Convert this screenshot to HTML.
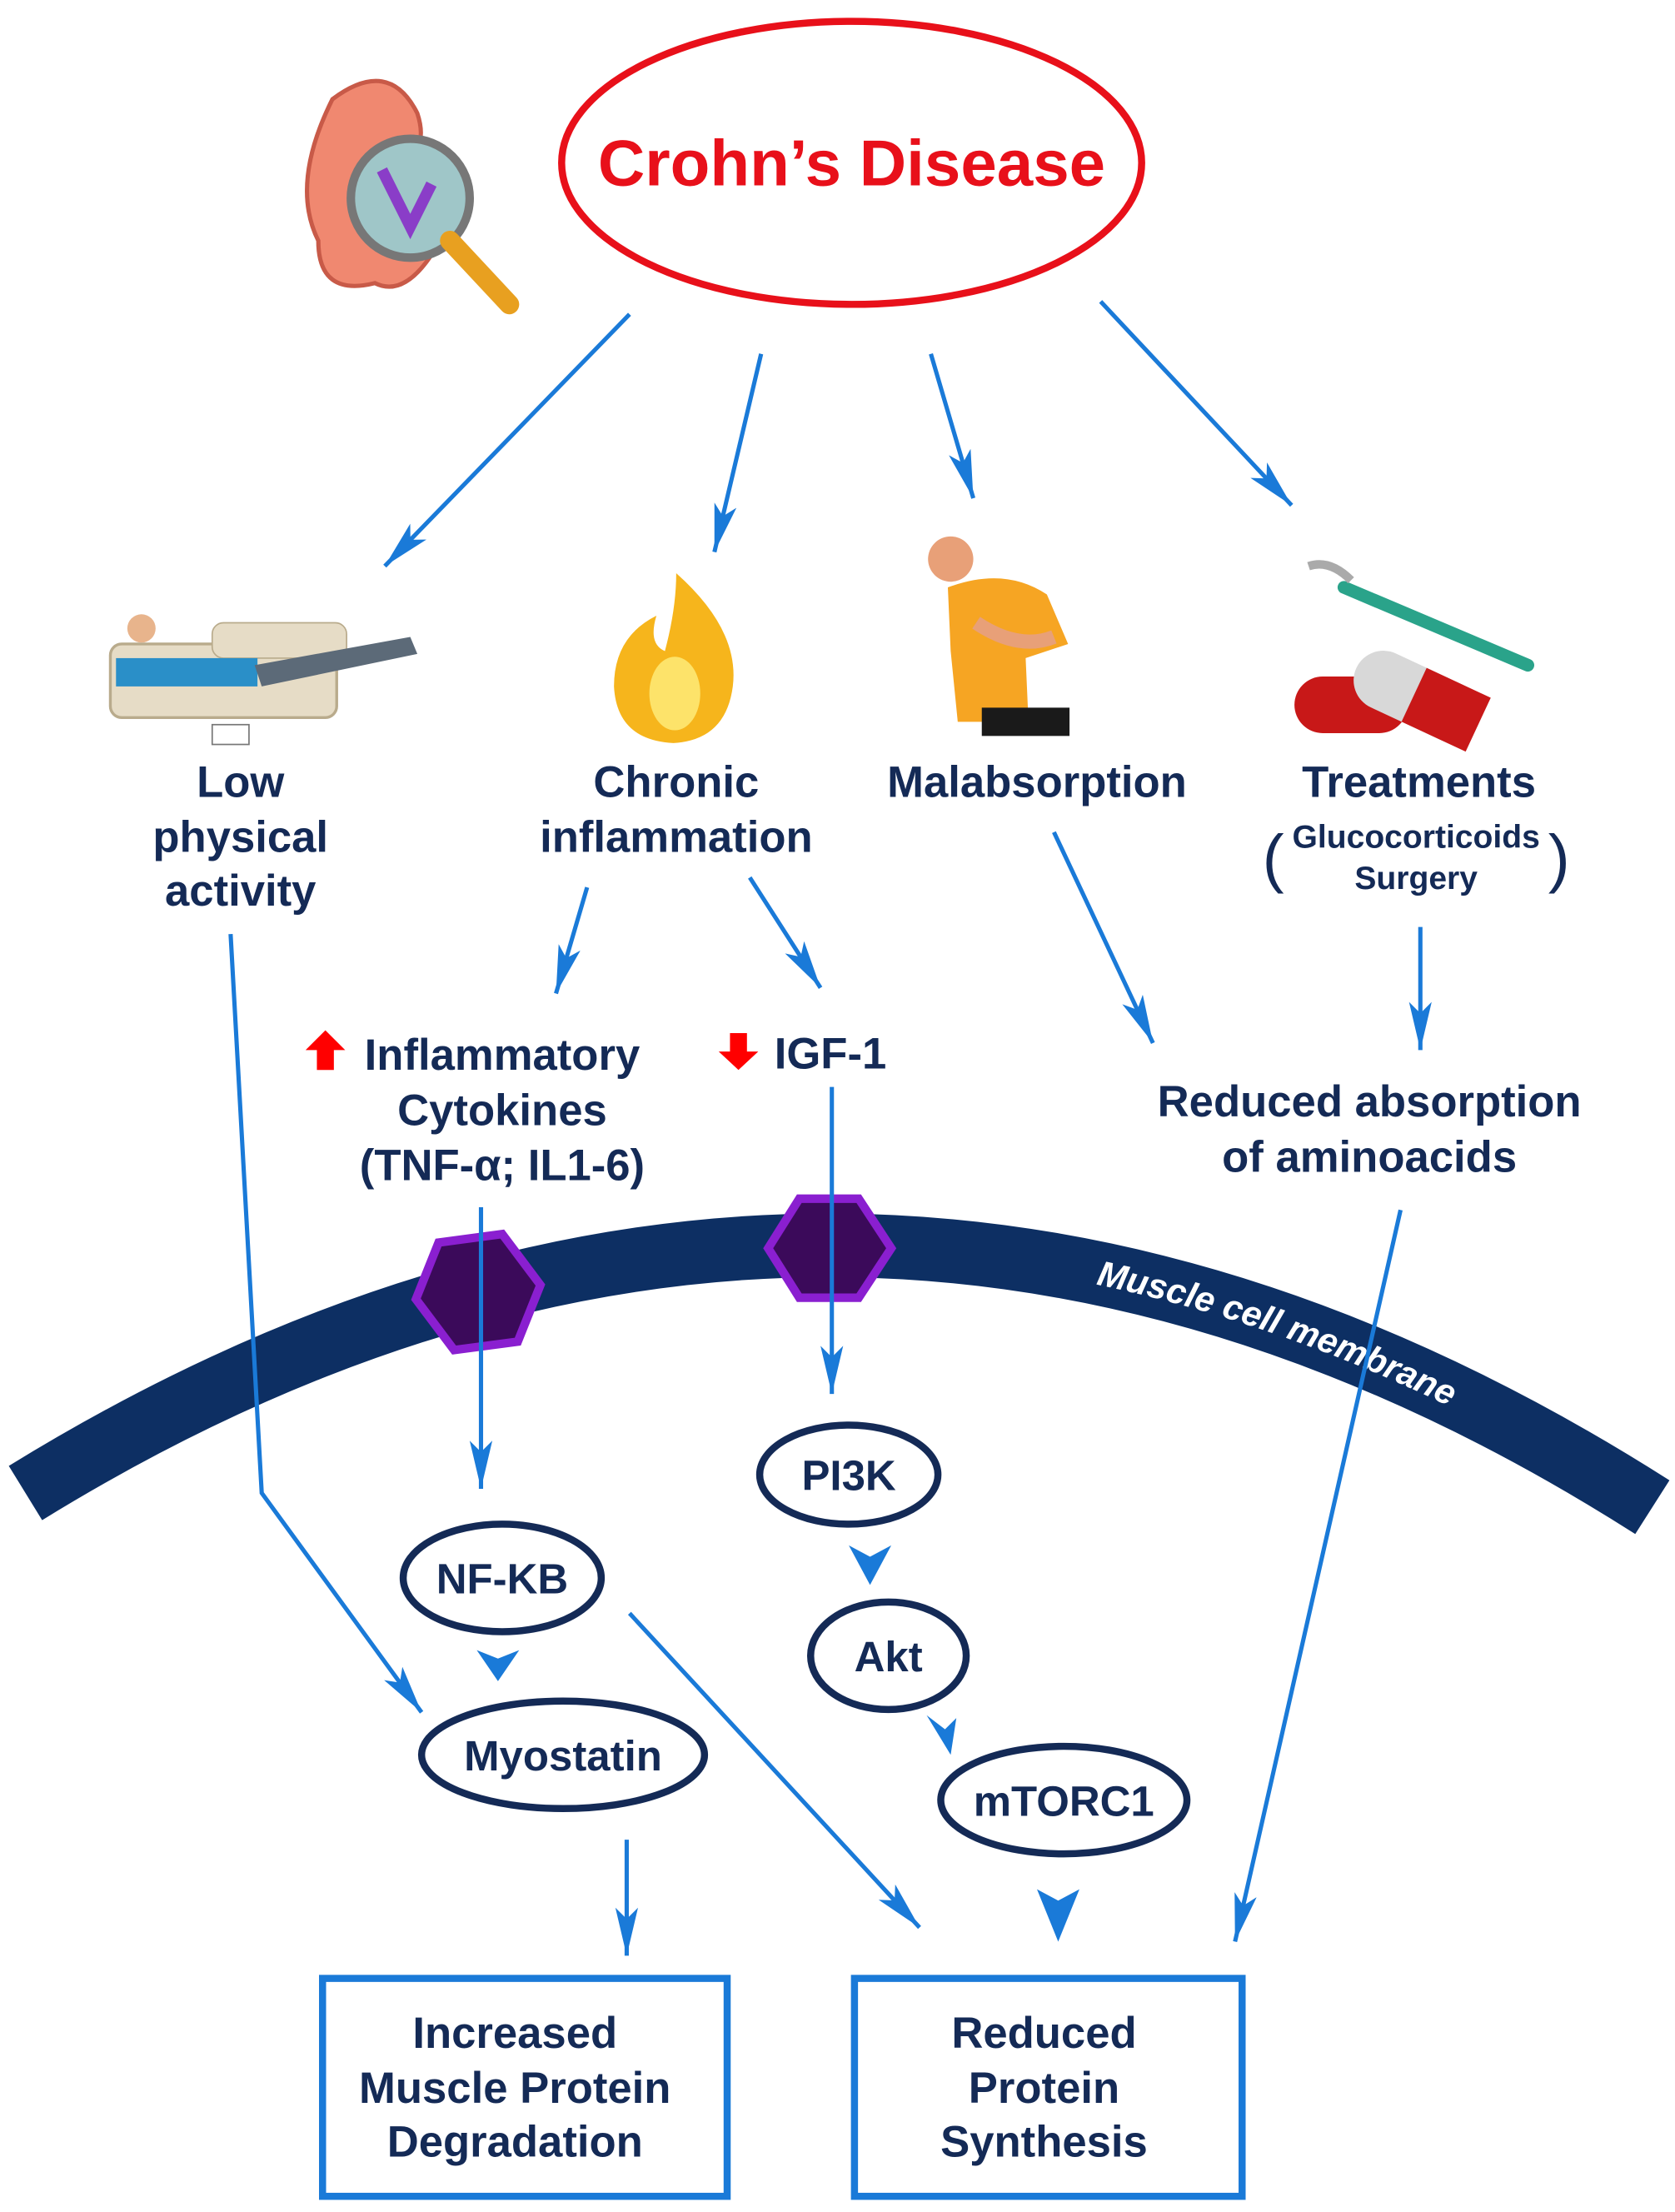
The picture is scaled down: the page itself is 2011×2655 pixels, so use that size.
<!DOCTYPE html>
<html><head><meta charset="utf-8"><style>html,body{margin:0;padding:0;background:#fff}svg{display:block}</style></head>
<body>
<svg width="2011" height="2655" viewBox="0 0 1184 1563" xmlns="http://www.w3.org/2000/svg" font-family="Liberation Sans, sans-serif" font-weight="bold">
<defs>
<marker id="a" markerUnits="userSpaceOnUse" markerWidth="40" markerHeight="20" refX="34" refY="8" orient="auto">
<path d="M0,0 L34,8 L0,16 L8,8 Z" fill="#1a7ad8"/>
</marker>
<path id="mem" d="M 18,1055 Q 595,700 1168,1065"/>
</defs>
<rect width="1184" height="1563" fill="#fff"/>

<!-- membrane -->
<path d="M 18,1055 Q 595,700 1168,1065" fill="none" stroke="#0d2f63" stroke-width="45"/>
<text font-size="25" fill="#fff" font-style="italic" dy="8"><textPath href="#mem" startOffset="65%">Muscle cell membrane</textPath></text>

<!-- hexagons -->
<polygon points="310,878 355,872 382,908 366,948 321,954 294,918" fill="#3b0a5a" stroke="#8a1fd0" stroke-width="6"/>
<polygon points="565,847 607,847 630,882 607,917 565,917 543,882" fill="#3b0a5a" stroke="#8a1fd0" stroke-width="6"/>

<!-- Crohn's ellipse -->
<ellipse cx="602" cy="115" rx="205" ry="100" fill="#fff" stroke="#e8101a" stroke-width="5"/>
<text x="602" y="131" font-size="46" fill="#e8101a" text-anchor="middle">Crohn’s Disease</text>

<!-- illustrations -->
<g>
<path d="M235,70 q40,-30 60,10 q10,30 -20,40 q40,20 30,60 q-20,30 -40,20 q-40,10 -40,-30 q-20,-40 10,-100z" fill="#f08870" stroke="#c85a48" stroke-width="3"/>
<circle cx="290" cy="140" r="42" fill="#9fc6c8" stroke="#777" stroke-width="6"/>
<path d="M270,120 l20,40 l15,-30" stroke="#8a3dc8" stroke-width="8" fill="none"/>
<line x1="318" y1="170" x2="360" y2="215" stroke="#e8a020" stroke-width="14" stroke-linecap="round"/>
</g>
<g>
<rect x="78" y="455" width="160" height="52" rx="8" fill="#e6dcc6" stroke="#b9ab8c" stroke-width="2"/>
<rect x="150" y="440" width="95" height="25" rx="8" fill="#e6dcc6" stroke="#b9ab8c"/>
<rect x="82" y="465" width="100" height="20" fill="#2a8fc8"/>
<path d="M180,470 L290,450 L295,462 L185,485z" fill="#5c6a78"/>
<circle cx="100" cy="444" r="10" fill="#e8b48c"/>
<rect x="150" y="512" width="26" height="14" fill="#fff" stroke="#777"/>
</g>
<g>
<path d="M478,405 q45,40 40,80 q-5,38 -42,40 q-40,-2 -42,-40 q0,-35 30,-50 q-6,20 6,25 q8,-30 8,-55z" fill="#f6b51c"/>
<ellipse cx="477" cy="490" rx="18" ry="26" fill="#fde36a"/>
</g>
<g>
<circle cx="672" cy="395" r="16" fill="#e8a078"/>
<path d="M670,415 q40,-15 70,5 l15,35 l-30,10 l2,45 l-50,0 l-5,-50 z" fill="#f6a523"/>
<rect x="694" y="500" width="62" height="20" fill="#1a1a1a"/>
<path d="M690,440 q30,20 55,10" stroke="#e8a078" stroke-width="10" fill="none"/>
</g>
<g>
<line x1="950" y1="415" x2="1080" y2="470" stroke="#2aa38a" stroke-width="9" stroke-linecap="round"/>
<path d="M925,400 q15,-5 30,10" stroke="#aaa" stroke-width="6" fill="none"/>
<rect x="915" y="478" width="80" height="40" rx="20" fill="#c81818"/>
<rect x="955" y="470" width="95" height="42" rx="21" fill="#d8d8d8" transform="rotate(25 1000 490)"/>
<rect x="1000" y="470" width="50" height="42" rx="0" fill="#c81818" transform="rotate(25 1000 490)"/>
</g>

<!-- arrows -->
<g stroke="#1a7ad8" stroke-width="3" fill="none" marker-end="url(#a)">
<line x1="445" y1="222" x2="272" y2="400"/>
<line x1="538" y1="250" x2="505" y2="390"/>
<line x1="658" y1="250" x2="688" y2="352"/>
<line x1="778" y1="213" x2="913" y2="357"/>
<line x1="415" y1="627" x2="393" y2="702"/>
<line x1="530" y1="620" x2="580" y2="698"/>
<line x1="745" y1="588" x2="815" y2="737"/>
<line x1="1004" y1="655" x2="1004" y2="742"/>
<line x1="340" y1="853" x2="340" y2="1052"/>
<line x1="588" y1="768" x2="588" y2="985"/>
<polyline points="163,660 185,1055 298,1210"/>
<line x1="445" y1="1140" x2="650" y2="1362"/>
<line x1="443" y1="1300" x2="443" y2="1382"/>
<line x1="990" y1="855" x2="873" y2="1372"/>
</g>
<!-- short arrowheads -->
<g fill="#1a7ad8">
<path d="M600,1092 L615,1100 L630,1092 L615,1120z"/>
<path d="M337,1166 L352,1172 L367,1166 L352,1188z"/>
<path d="M655,1212 L668,1222 L676,1214 L672,1240z"/>
<path d="M733,1335 L748,1343 L763,1335 L748,1372z"/>
</g>

<!-- texts -->
<g fill="#142a56" text-anchor="middle" font-size="31">
<text x="170" y="563">Low</text>
<text x="170" y="602">physical</text>
<text x="170" y="640">activity</text>
<text x="478" y="563">Chronic</text>
<text x="478" y="602">inflammation</text>
<text x="733" y="563">Malabsorption</text>
<text x="1003" y="563">Treatments</text>
<text x="1001" y="599" font-size="23">Glucocorticoids</text>
<text x="1001" y="628" font-size="23">Surgery</text>
<text x="900" y="622" font-size="46" font-weight="normal">(</text>
<text x="1102" y="622" font-size="46" font-weight="normal">)</text>
<text x="355" y="756">Inflammatory</text>
<text x="355" y="795">Cytokines</text>
<text x="355" y="834">(TNF-α; IL1-6)</text>
<text x="587" y="755">IGF-1</text>
<text x="968" y="789">Reduced absorption</text>
<text x="968" y="828">of aminoacids</text>
<text x="364" y="1447">Increased</text>
<text x="364" y="1486">Muscle Protein</text>
<text x="364" y="1524">Degradation</text>
<text x="738" y="1447">Reduced</text>
<text x="738" y="1486">Protein</text>
<text x="738" y="1524">Synthesis</text>
</g>
<path d="M230,728 L244,742 L236,742 L236,756 L224,756 L224,742 L216,742z" fill="#f00"/>
<path d="M516,730 L528,730 L528,743 L536,743 L522,756 L508,743 L516,743z" fill="#f00"/>

<!-- node ellipses -->
<g fill="#fff" stroke="#142a56" stroke-width="5">
<ellipse cx="600" cy="1042" rx="63" ry="35"/>
<ellipse cx="355" cy="1115" rx="70" ry="38"/>
<ellipse cx="628" cy="1170" rx="55" ry="38"/>
<ellipse cx="398" cy="1240" rx="100" ry="38"/>
<ellipse cx="752" cy="1272" rx="87" ry="38"/>
</g>
<g fill="#142a56" text-anchor="middle" font-size="30">
<text x="600" y="1053">PI3K</text>
<text x="355" y="1126">NF-KB</text>
<text x="628" y="1181">Akt</text>
<text x="398" y="1251">Myostatin</text>
<text x="752" y="1283">mTORC1</text>
</g>

<!-- boxes -->
<rect x="228" y="1398" width="286" height="154" fill="none" stroke="#1a7ad8" stroke-width="5"/>
<rect x="604" y="1398" width="274" height="154" fill="none" stroke="#1a7ad8" stroke-width="5"/>
</svg>
</body></html>
